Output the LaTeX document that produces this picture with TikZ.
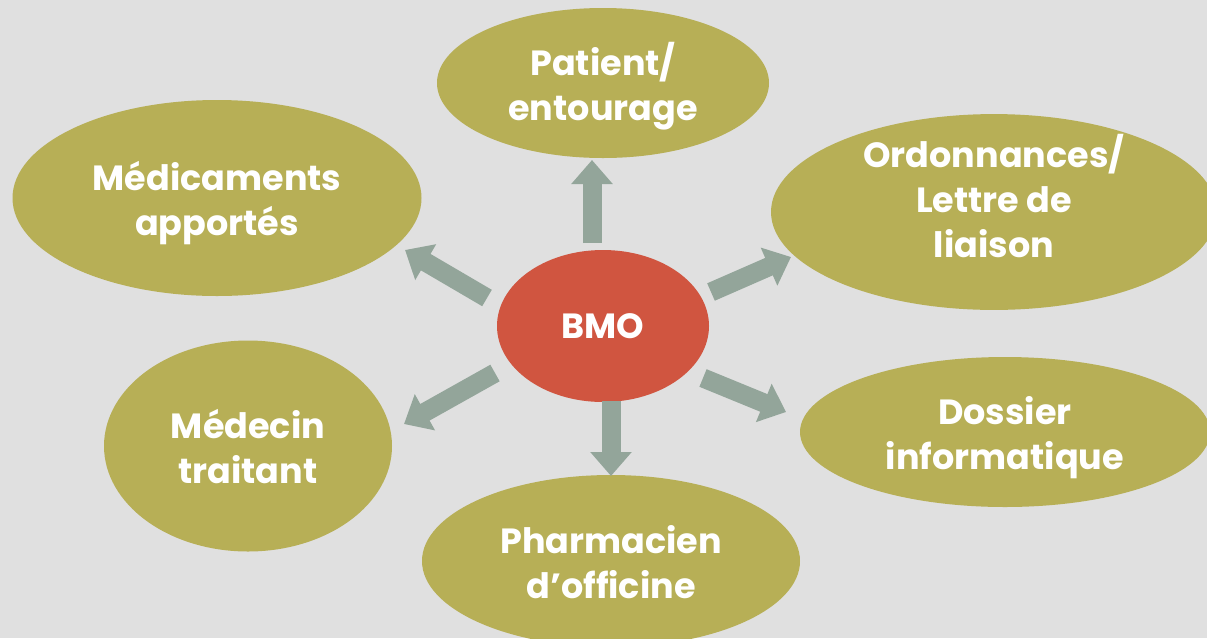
\documentclass[tikz,border=0pt]{standalone}
\usepackage{fontspec}
\setmainfont{Poppins}
\usetikzlibrary{shapes.geometric,arrows.meta}
\definecolor{bgc}{HTML}{E0E0E0}
\definecolor{olive}{HTML}{B7AF56}
\definecolor{bmoc}{HTML}{D05540}
\definecolor{arr}{HTML}{93A59A}
\tikzset{
  oval/.style={ellipse, fill=olive, inner sep=0pt, text=white, align=center,
    font=\fontsize{35}{45}\selectfont\bfseries},
  one/.style={text height=24.5pt, text depth=0pt},
  two/.style={text height=75pt, text depth=0pt},
  three/.style={text height=114.5pt, text depth=24pt},
  blk/.style={draw=arr, line width=19pt, -{Triangle[length=24pt,width=40pt]}},
}
\begin{document}
\begin{tikzpicture}[x=1pt,y=-1pt]
\fill[bgc] (0,0) rectangle (1207,638);
\useasboundingbox (0,0) rectangle (1207,638);
\begin{scope}
\clip (0,0) rectangle (1207,638);
\node[oval, two, minimum width=332pt, minimum height=150pt] (pat) at (603,83) {Patient/\\entourage};
\node[oval, two, minimum width=409pt, minimum height=196pt] (med) at (217,198) {Médicaments\\apportés};
\node[oval, three, minimum width=446pt, minimum height=166pt] (ord) at (994,212) {Ordonnances/\\Lettre de\\liaison};
\node[oval, two, minimum width=410pt, minimum height=150pt] (dos) at (1005,432) {Dossier\\informatique};
\node[oval, two, minimum width=288pt, minimum height=211pt] (mdt) at (248,446) {Médecin\\traitant};
\node[oval, two, minimum width=378pt, minimum height=172pt] (pha) at (611,561) {Pharmacien\\d’officine};
\node[oval, one, fill=bmoc, minimum width=212pt, minimum height=152pt] (bmo) at (603,326) {BMO};
\end{scope}
\coordinate (aUt) at (592,243); \coordinate (aUh) at (592,160);
\coordinate (aDt) at (611,401); \coordinate (aDh) at (611,476);
\coordinate (aULt) at (487,298); \coordinate (aULh) at (405,250);
\coordinate (aURt) at (711,292); \coordinate (aURh) at (791,257);
\coordinate (aLLt) at (495,373); \coordinate (aLLh) at (404,424);
\coordinate (aLRt) at (703,378); \coordinate (aLRh) at (786,412);
\draw[blk] (aUt) -- (aUh);
\draw[blk] (aDt) -- (aDh);
\draw[blk] (aULt) -- (aULh);
\draw[blk] (aURt) -- (aURh);
\draw[blk] (aLLt) -- (aLLh);
\draw[blk] (aLRt) -- (aLRh);
\end{tikzpicture}
\end{document}
